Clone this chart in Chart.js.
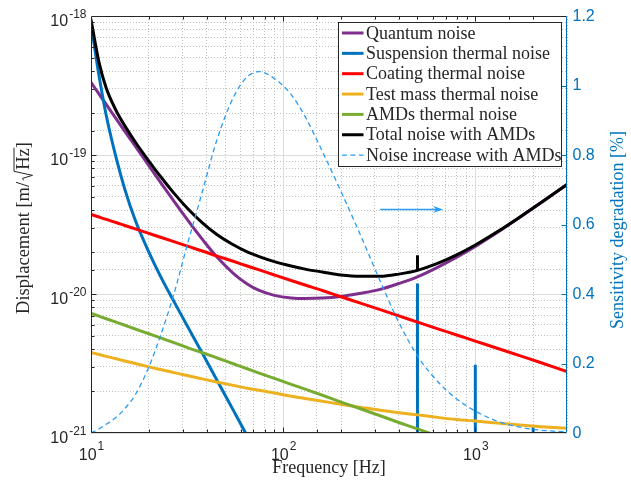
<!DOCTYPE html>
<html>
<head>
<meta charset="utf-8">
<title>Noise budget</title>
<script src="https://cdn.jsdelivr.net/npm/chart.js@4.4.1/dist/chart.umd.min.js"></script>
<style>
  html, body { margin: 0; padding: 0; background: #fff; }
  #wrap { width: 631px; height: 483px; }
</style>
</head>
<body>
<div id="wrap"><canvas id="noiseCanvas" width="631" height="483"></canvas></div>
<script>
// frequency grid [Hz]
const freq = [10, 11, 12, 13.5, 15, 17, 20, 23, 27, 32, 38, 45, 55, 65, 75, 90, 110, 130, 160, 200,
  250, 320, 400, 500, 650, 800, 1000, 1300, 1700, 2200, 3000];

// displacement noise [m/sqrt(Hz)]
const quantum = [3.33e-19, 2.75e-19, 2.31e-19, 1.83e-19, 1.48e-19, 1.16e-19, 8.37e-20, 6.35e-20, 4.65e-20, 3.37e-20,
  2.47e-20, 1.86e-20, 1.41e-20, 1.18e-20, 1.06e-20, 9.78e-21, 9.37e-21, 9.28e-21, 9.35e-21, 9.61e-21,
  1.01e-20, 1.08e-20, 1.19e-20, 1.33e-20, 1.58e-20, 1.84e-20, 2.20e-20, 2.77e-20, 3.55e-20, 4.54e-20, 6.13e-20];
const suspension = [8.8e-19, 3.74e-19, 1.93e-19, 9.6e-20, 5.66e-20, 3.39e-20, 2.00e-20, 1.34e-20, 8.85e-21, 5.75e-21,
  3.74e-21, 2.43e-21, 1.46e-21, 9.5e-22, 6.46e-22, 4.0e-22, 2.4e-22, 1.5e-22, 9e-23, 5e-23,
  2.8e-23, 1.5e-23, 8e-24, 4.7e-24, 2.4e-24, 1.4e-24, 8e-25, 4.2e-25, 2.1e-25, 1.1e-25, 5e-26];
const coating = [3.74e-20, 3.58e-20, 3.44e-20, 3.27e-20, 3.11e-20, 2.94e-20, 2.73e-20, 2.56e-20, 2.38e-20, 2.20e-20,
  2.04e-20, 1.88e-20, 1.72e-20, 1.59e-20, 1.49e-20, 1.37e-20, 1.25e-20, 1.16e-20, 1.06e-20, 9.55e-21,
  8.63e-21, 7.71e-21, 6.96e-21, 6.28e-21, 5.57e-21, 5.07e-21, 4.58e-21, 4.07e-21, 3.60e-21, 3.20e-21, 2.77e-21];
const testMass = [3.80e-21, 3.67e-21, 3.56e-21, 3.42e-21, 3.30e-21, 3.16e-21, 2.99e-21, 2.86e-21, 2.72e-21, 2.58e-21,
  2.45e-21, 2.33e-21, 2.20e-21, 2.10e-21, 2.03e-21, 1.94e-21, 1.84e-21, 1.77e-21, 1.69e-21, 1.61e-21,
  1.53e-21, 1.46e-21, 1.40e-21, 1.35e-21, 1.29e-21, 1.25e-21, 1.22e-21, 1.18e-21, 1.14e-21, 1.11e-21, 1.08e-21];
const amds = [7.26e-21, 6.93e-21, 6.64e-21, 6.27e-21, 5.96e-21, 5.60e-21, 5.18e-21, 4.83e-21, 4.47e-21, 4.10e-21,
  3.78e-21, 3.48e-21, 3.15e-21, 2.90e-21, 2.70e-21, 2.47e-21, 2.24e-21, 2.07e-21, 1.87e-21, 1.67e-21,
  1.50e-21, 1.33e-21, 1.19e-21, 1.07e-21, 9.4e-22, 8.5e-22, 7.6e-22, 6.7e-22, 5.9e-22, 5.2e-22, 4.4e-22];
const total = [9.4e-19, 4.66e-19, 3.03e-19, 2.09e-19, 1.62e-19, 1.24e-19, 9.05e-20, 7.00e-20, 5.32e-20, 4.09e-20,
  3.25e-20, 2.69e-20, 2.26e-20, 2.01e-20, 1.86e-20, 1.71e-20, 1.59e-20, 1.51e-20, 1.44e-20, 1.37e-20,
  1.34e-20, 1.34e-20, 1.39e-20, 1.48e-20, 1.68e-20, 1.91e-20, 2.25e-20, 2.80e-20, 3.57e-20, 4.55e-20, 6.14e-20];

// sensitivity degradation [%]
const increase = [0, 0.012, 0.025, 0.045, 0.07, 0.11, 0.19, 0.28, 0.40, 0.55,
  0.695, 0.84, 0.965, 1.025, 1.04, 1.02, 0.974, 0.911, 0.81, 0.695,
  0.575, 0.437, 0.318, 0.222, 0.143, 0.098, 0.063, 0.034, 0.017, 0.008, 0.003];

// violin modes of the suspension
const violinFreq = [500, 1000, 2000];
const violinPeak = [1.19e-20, 3.1e-21, 1.1e-21];
const violinFloor = [1e-23, 1e-23, 1e-23];
const totalSpikeFreq = [500];
const totalSpikePeak = [1.9e-20];
const totalSpikeBase = [1.48e-20];

const xExponents = [1, 2, 3];
const yExponents = [-18, -19, -20, -21];
const arrowFreq = [320, 680];
const arrowLevel = 0.645;

const colors = {
  quantum: '#7E2F8E', suspension: '#0072BD', coating: '#FF0000', testMass: '#EDB120',
  amds: '#77AC30', total: '#000000', increase: '#2A9DF4'
};
const axisColor = '#262626';
const rightColor = '#0072BD';
const serif = '"Liberation Serif", "Times New Roman", serif';
const sans = '"Liberation Sans", Arial, sans-serif';

const ctx = document.getElementById('noiseCanvas').getContext('2d');

function series(values) {
  return freq.map((f, i) => ({ x: f, y: values[i] }));
}

function spikes(fs, peaks, floors) {
  const pts = [];
  fs.forEach((f, i) => {
    pts.push({ x: f, y: floors[i] }, { x: f, y: peaks[i] }, { x: f, y: null });
  });
  return pts;
}

function isDecade(v) {
  const l = Math.log10(v);
  return Math.abs(l - Math.round(l)) < 1e-6;
}

const gridColor = c => (c.tick && isDecade(c.tick.value)) ? '#dcdcdc' : '#bfbfbf';
const gridDash = c => (c.tick && isDecade(c.tick.value)) ? [] : [1, 2];

const lineStyle = {
  borderWidth: 3, pointRadius: 0, fill: false, cubicInterpolationMode: 'monotone',
  borderCapStyle: 'round', borderJoinStyle: 'round', yAxisID: 'y'
};

const datasets = [
  { label: 'Quantum noise', data: series(quantum), borderColor: colors.quantum, order: 7, ...lineStyle },
  { label: 'Suspension thermal noise', data: series(suspension), borderColor: colors.suspension, order: 6, ...lineStyle },
  { label: 'Coating thermal noise', data: series(coating), borderColor: colors.coating, order: 5, ...lineStyle },
  { label: 'Test mass thermal noise', data: series(testMass), borderColor: colors.testMass, order: 4, ...lineStyle },
  { label: 'AMDs thermal noise', data: series(amds), borderColor: colors.amds, order: 3, ...lineStyle },
  { label: 'Total noise with AMDs', data: series(total), borderColor: colors.total, order: 1, ...lineStyle },
  {
    label: 'Noise increase with AMDs', data: series(increase), borderColor: colors.increase, order: 0,
    borderWidth: 1.3, borderDash: [5, 3.5], pointRadius: 0, fill: false,
    cubicInterpolationMode: 'monotone', yAxisID: 'y1'
  },
  // violin mode lines, not listed in the legend
  {
    label: 'violin', spike: true, data: spikes(violinFreq, violinPeak, violinFloor), borderColor: colors.suspension,
    order: 5.5, borderWidth: 3, pointRadius: 0, tension: 0, spanGaps: false, yAxisID: 'y'
  },
  {
    label: 'total violin', spike: true, data: spikes(totalSpikeFreq, totalSpikePeak, totalSpikeBase), borderColor: colors.total,
    order: 1, borderWidth: 3, pointRadius: 0, tension: 0, spanGaps: false, yAxisID: 'y'
  }
];

function drawPower(c, exp, x, y10, yExp, align) {
  c.font = '16px ' + sans;
  const w10 = c.measureText('10').width;
  c.font = '12px ' + sans;
  const expText = String(exp);
  const wExp = c.measureText(expText).width;
  const x0 = align === 'center' ? x - (w10 + wExp) / 2 : x - w10 - wExp;
  c.textAlign = 'left';
  c.textBaseline = 'alphabetic';
  c.font = '16px ' + sans;
  c.fillText('10', x0, y10);
  c.font = '12px ' + sans;
  c.fillText(expText, x0 + w10 + 1, yExp);
}

const decorations = {
  id: 'decorations',
  afterDraw(chart) {
    const c = chart.ctx;
    const a = chart.chartArea;
    const xs = chart.scales.x, ys = chart.scales.y, yr = chart.scales.y1;
    const L = Math.round(a.left) + 0.5, R = Math.round(a.right) - 0.5;
    const T = Math.round(a.top) + 0.5, B = Math.round(a.bottom) - 0.5;
    c.save();

    // box
    c.lineWidth = 1;
    c.strokeStyle = axisColor;
    c.beginPath();
    c.moveTo(R, T); c.lineTo(L, T); c.lineTo(L, B); c.lineTo(R, B);
    c.stroke();
    c.strokeStyle = rightColor;
    c.beginPath();
    c.moveTo(R, T); c.lineTo(R, B);
    c.stroke();

    // inward tick marks
    c.strokeStyle = axisColor;
    c.beginPath();
    xs.ticks.forEach(t => {
      const px = Math.round(xs.getPixelForValue(t.value)) + 0.5;
      if (px <= L + 1 || px >= R - 1) return;
      const len = isDecade(t.value) ? 5 : 3;
      c.moveTo(px, B); c.lineTo(px, B - len);
      c.moveTo(px, T); c.lineTo(px, T + len);
    });
    ys.ticks.forEach(t => {
      const py = Math.round(ys.getPixelForValue(t.value)) + 0.5;
      if (py <= T + 1 || py >= B - 1) return;
      const len = isDecade(t.value) ? 5 : 3;
      c.moveTo(L, py); c.lineTo(L + len, py);
    });
    c.stroke();
    c.strokeStyle = rightColor;
    c.beginPath();
    yr.ticks.forEach(t => {
      const py = Math.round(yr.getPixelForValue(t.value)) + 0.5;
      if (py <= T + 1 || py >= B - 1) return;
      c.moveTo(R, py); c.lineTo(R - 5, py);
    });
    c.stroke();

    // tick labels
    c.fillStyle = axisColor;
    xExponents.forEach(e => {
      const px = xs.getPixelForValue(Math.pow(10, e));
      drawPower(c, e, px, a.bottom + 26.5, a.bottom + 16.5, 'center');
    });
    yExponents.forEach(e => {
      const py = ys.getPixelForValue(Math.pow(10, e));
      drawPower(c, e, a.left - 5.5, py + 9.5, py + 2, 'right');
    });
    c.fillStyle = rightColor;
    c.font = '16px ' + sans;
    c.textAlign = 'left';
    c.textBaseline = 'middle';
    yr.ticks.forEach(t => {
      const py = yr.getPixelForValue(t.value);
      c.fillText(String(Number(t.value.toFixed(1))), a.right + 5.5, py + 0.5);
    });

    // axis titles
    c.fillStyle = axisColor;
    c.font = '18px ' + serif;
    c.textAlign = 'center';
    c.textBaseline = 'middle';
    c.fillText('Frequency [Hz]', (a.left + a.right) / 2, a.bottom + 35);

    // left title, with a drawn radical over Hz
    c.save();
    c.translate(23, 228);
    c.rotate(-Math.PI / 2);
    c.font = '18.5px ' + serif;
    c.textAlign = 'left';
    c.textBaseline = 'alphabetic';
    const head = 'Displacement [m/', unit = 'Hz', tail = ']';
    const wHead = c.measureText(head).width, wUnit = c.measureText(unit).width, wTail = c.measureText(tail).width;
    const wRad = 12;
    let px = -(wHead + wRad + wUnit + wTail) / 2;
    const base = 6, top = base - 15;
    c.fillText(head, px, base);
    px += wHead;
    c.strokeStyle = axisColor;
    c.lineWidth = 1;
    c.beginPath();
    c.moveTo(px + 1.5, base - 5.5);
    c.lineTo(px + 3.5, base - 6.5);
    c.lineTo(px + 6.5, base + 3.5);
    c.lineTo(px + 10.5, top);
    c.lineTo(px + wRad + wUnit + 0.5, top);
    c.stroke();
    px += wRad;
    c.fillText(unit, px, base);
    px += wUnit;
    c.fillText(tail, px, base);
    c.restore();

    c.save();
    c.translate(618, 230);
    c.rotate(-Math.PI / 2);
    c.font = '18px ' + serif;
    c.fillStyle = rightColor;
    c.textAlign = 'center';
    c.textBaseline = 'middle';
    c.fillText('Sensitivity degradation [%]', 0, 0);
    c.restore();

    // arrow pointing at the right-hand axis
    const ax0 = xs.getPixelForValue(arrowFreq[0]);
    const ax1 = xs.getPixelForValue(arrowFreq[1]);
    const ay = Math.round(yr.getPixelForValue(arrowLevel)) + 0.5;
    c.strokeStyle = colors.increase;
    c.fillStyle = colors.increase;
    c.lineWidth = 1.3;
    c.beginPath();
    c.moveTo(ax0, ay); c.lineTo(ax1 - 6, ay);
    c.stroke();
    c.beginPath();
    c.moveTo(ax1, ay); c.lineTo(ax1 - 10, ay - 3.5); c.lineTo(ax1 - 7, ay); c.lineTo(ax1 - 10, ay + 3.5);
    c.closePath();
    c.fill();

    // legend
    const items = chart.data.datasets.filter(d => !d.spike);
    const bx = 338.5, by = 22.5, bw = 223, bh = 144, rowH = 20.35;
    c.fillStyle = '#ffffff';
    c.fillRect(bx, by, bw, bh);
    c.lineWidth = 1;
    c.strokeStyle = axisColor;
    c.strokeRect(bx, by, bw, bh);
    c.font = '18px ' + serif;
    c.textAlign = 'left';
    c.textBaseline = 'middle';
    items.forEach((d, i) => {
      const ry = by + 10.5 + i * rowH;
      c.strokeStyle = d.borderColor;
      c.lineWidth = d.borderWidth;
      c.setLineDash(d.borderDash || []);
      c.beginPath();
      c.moveTo(bx + 3.5, ry); c.lineTo(bx + 25, ry);
      c.stroke();
      c.setLineDash([]);
      c.fillStyle = axisColor;
      c.fillText(d.label, bx + 27.5, ry + 1);
    });

    c.restore();
  }
};

new Chart(ctx, {
  type: 'line',
  data: { datasets },
  options: {
    responsive: false,
    animation: false,
    layout: { padding: { left: 91, right: 64, top: 16, bottom: 50 } },
    plugins: { legend: { display: false }, tooltip: { enabled: false } },
    scales: {
      x: {
        type: 'logarithmic', min: 10, max: 3000,
        ticks: { display: false },
        grid: { color: gridColor, lineWidth: 1, drawTicks: false },
        border: { display: false, dash: gridDash },
        afterFit: s => { s.height = 0; }
      },
      y: {
        type: 'logarithmic', position: 'left', min: 1e-21, max: 1e-18,
        ticks: { display: false },
        grid: { color: gridColor, lineWidth: 1, drawTicks: false },
        border: { display: false, dash: gridDash },
        afterFit: s => { s.width = 0; }
      },
      y1: {
        type: 'linear', position: 'right', min: 0, max: 1.2,
        ticks: { display: false, stepSize: 0.2 },
        grid: { drawOnChartArea: false, drawTicks: false },
        border: { display: false },
        afterFit: s => { s.width = 0; }
      }
    }
  },
  plugins: [decorations]
});
</script>
</body>
</html>
